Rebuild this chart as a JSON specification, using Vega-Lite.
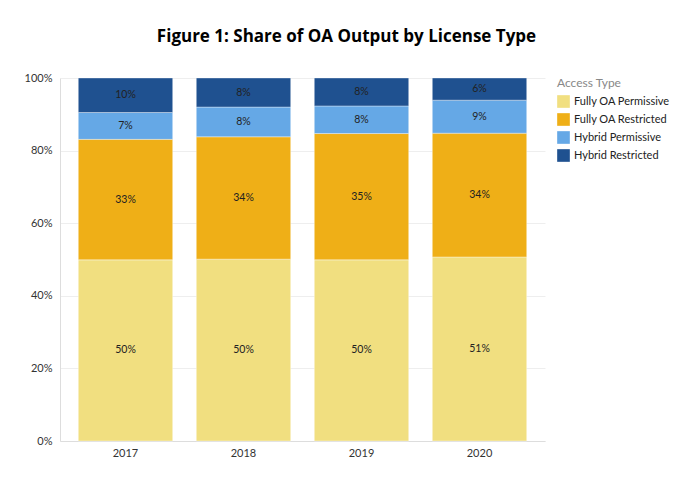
{
  "$schema": "https://vega.github.io/schema/vega-lite/v6.json",
  "width": 485,
  "height": 363,
  "autosize": {"type": "none"},
  "padding": {"left": 60, "top": 78, "right": 147, "bottom": 52},
  "title": {
    "text": "Figure 1: Share of OA Output by License Type",
    "font": "Open Sans",
    "fontSize": 17,
    "fontWeight": "bold",
    "color": "#000000",
    "anchor": "middle",
    "dx": 44,
    "offset": 26
  },
  "config": {
    "view": {"stroke": null},
    "font": "Lato"
  },
  "data": {
    "values": [
      {"year": "2017", "type": "Fully OA Permissive", "ord": 1, "share": 0.499},
      {"year": "2017", "type": "Fully OA Restricted", "ord": 2, "share": 0.332},
      {"year": "2017", "type": "Hybrid Permissive", "ord": 3, "share": 0.074},
      {"year": "2017", "type": "Hybrid Restricted", "ord": 4, "share": 0.095},
      {"year": "2018", "type": "Fully OA Permissive", "ord": 1, "share": 0.501},
      {"year": "2018", "type": "Fully OA Restricted", "ord": 2, "share": 0.337},
      {"year": "2018", "type": "Hybrid Permissive", "ord": 3, "share": 0.082},
      {"year": "2018", "type": "Hybrid Restricted", "ord": 4, "share": 0.080},
      {"year": "2019", "type": "Fully OA Permissive", "ord": 1, "share": 0.499},
      {"year": "2019", "type": "Fully OA Restricted", "ord": 2, "share": 0.348},
      {"year": "2019", "type": "Hybrid Permissive", "ord": 3, "share": 0.076},
      {"year": "2019", "type": "Hybrid Restricted", "ord": 4, "share": 0.077},
      {"year": "2020", "type": "Fully OA Permissive", "ord": 1, "share": 0.507},
      {"year": "2020", "type": "Fully OA Restricted", "ord": 2, "share": 0.341},
      {"year": "2020", "type": "Hybrid Permissive", "ord": 3, "share": 0.091},
      {"year": "2020", "type": "Hybrid Restricted", "ord": 4, "share": 0.061}
    ]
  },
  "encoding": {
    "x": {
      "field": "year",
      "type": "ordinal",
      "title": null,
      "scale": {"paddingInner": 0.2, "paddingOuter": 0.155},
      "axis": {
        "labelAngle": 0,
        "labelFontSize": 11,
        "labelColor": "#333333",
        "labelPadding": 6,
        "domainColor": "#dddddd",
        "ticks": false
      }
    },
    "y": {
      "field": "share",
      "type": "quantitative",
      "stack": "zero",
      "title": null,
      "scale": {"domain": [0, 1]},
      "axis": {
        "format": ".0%",
        "tickCount": 5,
        "labelFontSize": 11,
        "labelColor": "#333333",
        "labelPadding": 8,
        "gridColor": "#eeeeee",
        "domainColor": "#dddddd",
        "ticks": false
      }
    },
    "order": {"field": "ord", "type": "quantitative"}
  },
  "layer": [
    {
      "mark": {"type": "bar", "stroke": "#ffffff", "strokeWidth": 0.6, "strokeOpacity": 0.6},
      "encoding": {
        "color": {
          "field": "type",
          "type": "nominal",
          "title": "Access Type",
          "scale": {
            "domain": ["Fully OA Permissive", "Fully OA Restricted", "Hybrid Permissive", "Hybrid Restricted"],
            "range": ["#f1df80", "#efaf17", "#65a8e6", "#1f5190"]
          },
          "legend": {
            "orient": "right",
            "offset": 12,
            "titleFont": "Lato",
            "titleFontSize": 12,
            "titleFontWeight": "normal",
            "titleColor": "#888888",
            "labelFont": "Lato",
            "labelFontSize": 11,
            "labelColor": "#222222",
            "symbolType": "square",
            "symbolSize": 160,
            "symbolStrokeWidth": 0,
            "rowPadding": 5,
            "titlePadding": 5
          }
        }
      }
    },
    {
      "mark": {"type": "text", "fontSize": 10.5, "color": "#222222"},
      "encoding": {
        "y": {"field": "share", "type": "quantitative", "stack": "zero", "bandPosition": 0.5},
        "text": {"field": "share", "type": "quantitative", "format": ".0%"}
      }
    }
  ]
}
